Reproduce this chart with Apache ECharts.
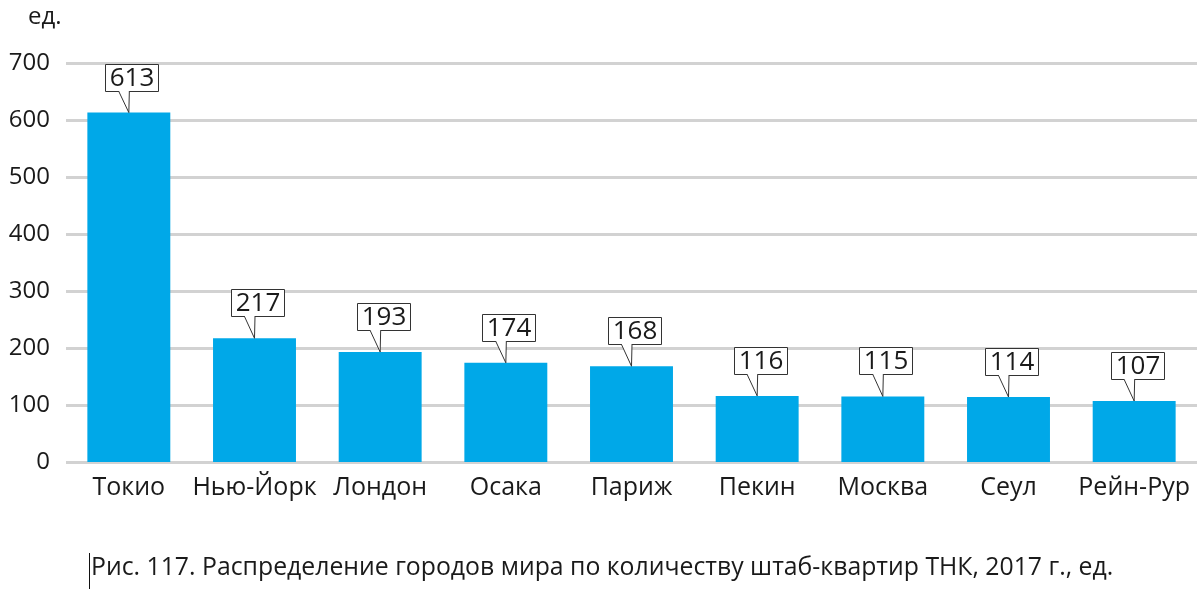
<!DOCTYPE html>
<html><head><meta charset="utf-8">
<script src="https://cdn.jsdelivr.net/npm/echarts@6/dist/echarts.min.js"></script>
<style>html,body{margin:0;padding:0;background:#fff}#c{width:1203px;height:596px}</style>
</head><body><div id="c"></div>
<script>
var categories = ['Токио','Нью-Йорк','Лондон','Осака','Париж','Пекин','Москва','Сеул','Рейн-Рур'];
var values = [613,217,193,174,168,116,115,114,107];
var yTicks = [0,100,200,300,400,500,600,700];
var unitLabel = 'ед.';
var caption = 'Рис. 117. Распределение городов мира по количеству штаб-квартир ТНК, 2017 г., ед.';

var FONT = '"Open Sans", "Noto Sans", sans-serif';
var chart = echarts.init(document.getElementById('c'), null, {renderer:'canvas'});
chart.setOption({
  animation:false,
  grid:{left:66,right:6,top:63,bottom:134,containLabel:false},
  xAxis:{type:'category',data:categories,
    axisLine:{show:false},axisTick:{show:false},
    axisLabel:{color:'#1a1a1a',fontSize:25,fontFamily:FONT,margin:13,interval:0}},
  yAxis:{type:'value',min:yTicks[0],max:yTicks[yTicks.length-1],interval:100,
    axisLine:{show:false},axisTick:{show:false},
    axisLabel:{color:'#1a1a1a',fontSize:24,fontFamily:FONT,margin:16},
    splitLine:{lineStyle:{color:'#d2d2d2',width:3}}},
  series:[
    {type:'bar',data:values,barWidth:'66%',itemStyle:{color:'#00a8e8'},z:2},
    {type:'custom',data:values.map(function(v,i){return [i,v];}),z:5,
     renderItem:function(params,api){
       var idx=api.value(0), v=api.value(1);
       var p=api.coord([idx,v]);
       var txt=String(v);
       var w=53, h=27, tail=22;
       var bx=Math.round(p[0]-w/2+3)+0.5, by=Math.round(p[1]-tail-h)+0.5;
       var bb=by+h;
       return {type:'group',children:[
         {type:'rect',shape:{x:bx,y:by,width:w,height:h},
          style:{fill:'#fff',stroke:'#333',lineWidth:1}},
         {type:'polygon',shape:{points:[[p[0]-10,bb],[p[0],p[1]],[p[0]+0.5,bb]]},
          style:{fill:'#fff',stroke:'#333',lineWidth:1}},
         {type:'rect',shape:{x:p[0]-9.5,y:bb-1,width:9.5,height:1.5},style:{fill:'#fff'}},
         {type:'text',style:{text:txt,x:bx+w/2,y:by+h/2+1,align:'center',verticalAlign:'middle',
          fontSize:26,fontFamily:FONT,fill:'#1a1a1a'}}
       ]};
     }}
  ],
  graphic:[
    {type:'text',left:28,top:5,style:{text:unitLabel,fontSize:24,fontFamily:FONT,fill:'#1a1a1a'}},
    {type:'text',left:91,top:555,style:{text:caption,fontSize:24.8,fontFamily:FONT,fill:'#1a1a1a'}},
    {type:'line',shape:{x1:89.5,y1:553,x2:89.5,y2:589},style:{stroke:'#111',lineWidth:1}}
  ]
});
</script></body></html>
